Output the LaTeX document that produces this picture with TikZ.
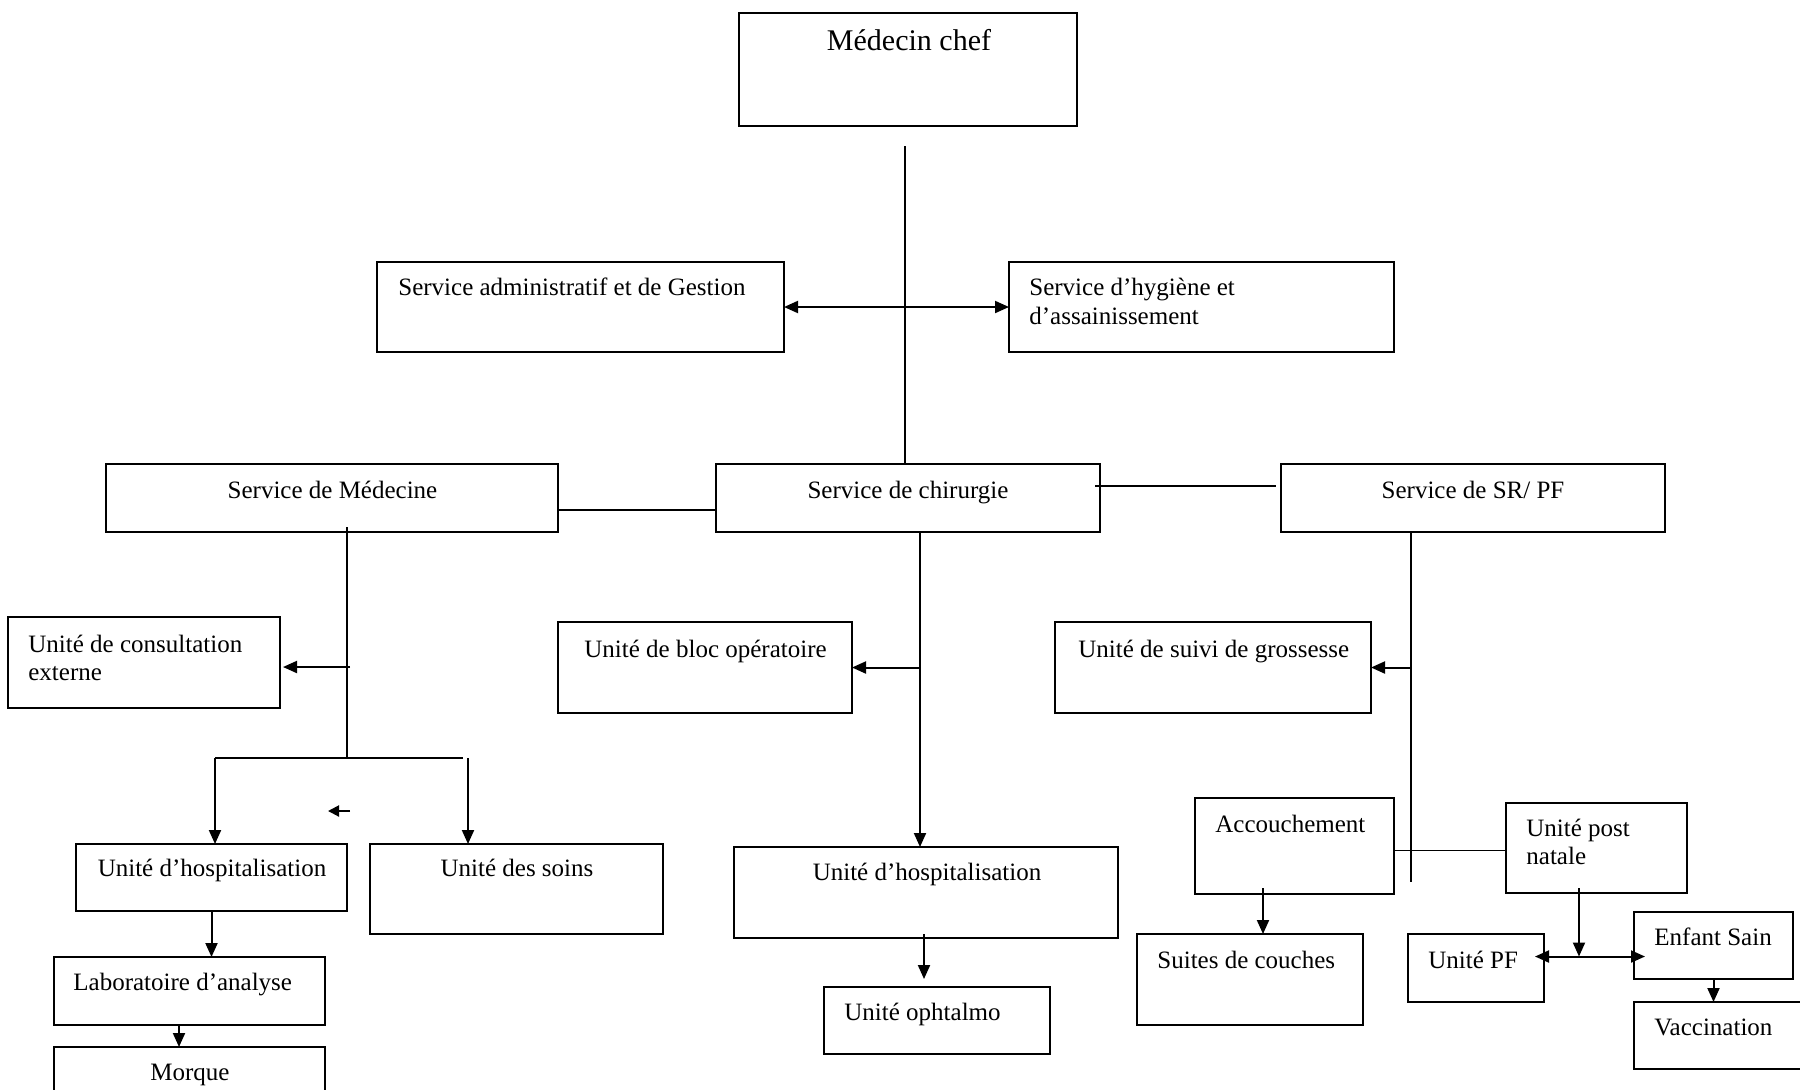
\documentclass[tikz,border=0pt]{standalone}
\usepackage{fontspec}
\setmainfont{Liberation Serif}
\usetikzlibrary{arrows.meta}
\newcommand\mytwolines[2]{\vtop{\hbox{#1}\hbox{#2}}}
\begin{document}
\begin{tikzpicture}[x=0.5pt,y=-0.5pt,
  box/.style={draw, line width=1.2pt, inner sep=0pt, outer sep=0pt, anchor=north west},
  txt/.style={inner sep=0pt, font=\fontsize{12.5}{14.25}\selectfont},
  conn/.style={line width=1pt},
  thinline/.style={line width=0.8pt},
  arr/.style={line width=1pt, -{Triangle[length=7pt,width=6pt]}},
  smallarr/.style={line width=1pt, -{Triangle[length=5.5pt,width=5.5pt]}},
  darr/.style={line width=1pt, {Triangle[length=7pt,width=6pt]}-{Triangle[length=7pt,width=6pt]}}]
\clip (0,0) rectangle (1800,1089);
\fill[white] (0,0) rectangle (1800,1089);

% boxes
\node[box, minimum width=169pt,   minimum height=56.5pt] (mc)    at (739,13)   {};
\node[box, minimum width=203.5pt, minimum height=45pt]   (adm)   at (377,262)  {};
\node[box, minimum width=192.5pt, minimum height=45pt]   (hyg)   at (1009,262) {};
\node[box, minimum width=226pt,   minimum height=34pt]   (med)   at (106,464)  {};
\node[box, minimum width=192pt,   minimum height=34pt]   (chir)  at (716,464)  {};
\node[box, minimum width=192pt,   minimum height=34pt]   (sr)    at (1281,464) {};
\node[box, minimum width=136pt,   minimum height=45.5pt] (cons)  at (8,617)    {};
\node[box, minimum width=147pt,   minimum height=45.5pt] (bloc)  at (558,622)  {};
\node[box, minimum width=158pt,   minimum height=45.5pt] (gros)  at (1055,622) {};
\node[box, minimum width=135.5pt, minimum height=33.5pt] (hospM) at (76,844)   {};
\node[box, minimum width=146.5pt, minimum height=45pt]   (soins) at (370,844)  {};
\node[box, minimum width=192pt,   minimum height=45.5pt] (hospC) at (734,847)  {};
\node[box, minimum width=113pt,   minimum height=33.5pt] (oph)   at (824,987)  {};
\node[box, minimum width=135.5pt, minimum height=34pt]   (lab)   at (54,957)   {};
\node[box, minimum width=135.5pt, minimum height=31.5pt] (morque) at (54,1047) {};
\node[box, minimum width=99.5pt,  minimum height=48pt]   (acc)   at (1195,798) {};
\node[box, minimum width=90.5pt,  minimum height=45pt]   (pn)    at (1506,803) {};
\node[box, minimum width=113pt,   minimum height=45.5pt] (suites) at (1137,934) {};
\node[box, minimum width=68pt,    minimum height=34pt]   (pf)    at (1408,934) {};
\node[box, minimum width=79.5pt,  minimum height=33.5pt] (enf)   at (1634,912) {};
\node[box, minimum width=90.5pt,  minimum height=33.5pt] (vacc)  at (1634,1002) {};

% texts
\node[txt, font=\fontsize{15}{18}\selectfont, anchor=base] (mc-t) at (909,50) {Médecin chef};
\node[txt, anchor=base west] (adm-t) at (398,295) {Service administratif et de Gestion};
\node[txt, anchor=base west, font=\fontsize{12.5}{14.5}\selectfont] (hyg-t) at (1029,295) {\mytwolines{Service d’hygiène et}{d’assainissement}};
\node[txt, anchor=base] (med-t) at (332.5,498) {Service de Médecine};
\node[txt, anchor=base] (chir-t) at (908,498) {Service de chirurgie};
\node[txt, anchor=base] (sr-t) at (1473,498) {Service de SR/ PF};
\node[txt, anchor=base west, font=\fontsize{12.5}{14}\selectfont] (cons-t) at (28,652) {\mytwolines{Unité de consultation}{externe}};
\node[txt, anchor=base west] (bloc-t) at (584,657) {Unité de bloc opératoire};
\node[txt, anchor=base west] (gros-t) at (1078,657) {Unité de suivi de grossesse};
\node[txt, anchor=base] (hospM-t) at (212,876) {Unité d’hospitalisation};
\node[txt, anchor=base] (soins-t) at (517,876) {Unité des soins};
\node[txt, anchor=base] (hospC-t) at (927,880) {Unité d’hospitalisation};
\node[txt, anchor=base west] (oph-t) at (844,1020) {Unité ophtalmo};
\node[txt, anchor=base west] (lab-t) at (73,990) {Laboratoire d’analyse};
\node[txt, anchor=base] (morque-t) at (190,1080) {Morque};
\node[txt, anchor=base west] (acc-t) at (1215,832) {Accouchement};
\node[txt, anchor=base west] (pn-t) at (1526,836) {\mytwolines{Unité post}{natale}};
\node[txt, anchor=base west] (suites-t) at (1157,968) {Suites de couches};
\node[txt, anchor=base west] (pf-t) at (1428,968) {Unité PF};
\node[txt, anchor=base west] (enf-t) at (1654,945) {Enfant Sain};
\node[txt, anchor=base west] (vacc-t) at (1654,1035) {Vaccination};

% connectors: top
\coordinate (mcl) at (905,146);
\draw[thinline] (mcl) -- (mcl |- chir.north);
\draw[darr] (adm.east) -- (hyg.west);
\draw[thinline] ([yshift=-6pt]med.east) -- ([yshift=-6pt]chir.west);
\draw[thinline] ([xshift=-2.5pt,yshift=6pt]chir.east) -- ([xshift=-2.5pt,yshift=6pt]sr.west);

% Service de Medecine branch
\coordinate (mt) at ([xshift=7.5pt,yshift=2.5pt]med.south);
\coordinate (mj) at (mt |- 0,758);
\draw[conn] (mt) -- (mj);
\coordinate (mc1) at (350,667);
\draw[arr, shorten >=1.5pt] (mc1) -- (mc1 -| cons.east);
\coordinate (spl) at (215,758);
\coordinate (spr) at (463,758);
\coordinate (spr2) at (468,758);
\draw[conn] (spl) -- (spr);
\draw[arr] (spl) -- (spl |- hospM.north);
\draw[arr] (spr2) -- (spr2 |- soins.north);
\coordinate (st1) at (350,811);
\coordinate (st2) at (328,811);
\draw[smallarr] (st1) -- (st2);
\draw[arr] (hospM.south) -- (hospM.south |- lab.north);
\draw[arr] ([xshift=-5.25pt]lab.south) -- ([xshift=-5.25pt]morque.north);

% Service de chirurgie branch
\coordinate (ct) at ([xshift=6pt]chir.south);
\draw[arr] (ct) -- (ct |- hospC.north);
\draw[arr] (ct |- bloc.east) -- (bloc.east);
\coordinate (ho) at ([xshift=-1pt,yshift=2pt]hospC.south);
\draw[arr, shorten >=4pt] (ho) -- (ho |- oph.north);

% Service SR/PF branch
\coordinate (srt) at ([xshift=-31pt]sr.south);
\coordinate (sre) at (srt |- 0,882);
\draw[conn] (srt) -- (sre);
\draw[arr] (srt |- gros.east) -- (gros.east);
\coordinate (ap) at ([yshift=-2.3pt]acc.east);
\draw[thinline] (ap) -- (ap -| pn.west);
\coordinate (as) at ([xshift=-15.75pt,yshift=3pt]acc.south);
\draw[arr] (as) -- (as |- suites.north);
\coordinate (pns) at ([xshift=-8.75pt,yshift=2.5pt]pn.south);
\coordinate (pj) at (pns |- 0,956.5);
\draw[arr] (pns) -- (pj);
\draw[darr, shorten <=-4.5pt, shorten >=-5.5pt] (pj -| pf.east) -- (pj -| enf.west);
\draw[arr] (enf.south) -- (enf.south |- vacc.north);
\end{tikzpicture}
\end{document}
